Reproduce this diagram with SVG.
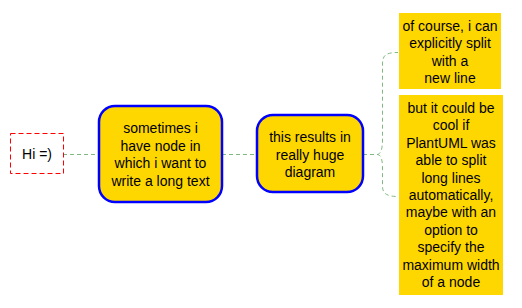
<svg xmlns="http://www.w3.org/2000/svg" width="522" height="308" viewBox="0 0 522 308">
<style>
text{font-family:"Liberation Sans",Arial,sans-serif;font-size:14px;fill:#000;text-anchor:middle}
.box{fill:#FFD700;stroke:#0000FF;stroke-width:2.5}
.plain{fill:#FFD700;stroke:none}
.conn{fill:none;stroke:#7FB97F;stroke-width:1;stroke-dasharray:4,3}
</style>
<rect width="522" height="308" fill="#fff"/>
<g id="connectors">
<path class="conn" d="M63,154.5 H99"/>
<path class="conn" d="M222,154.5 H257"/>
<path class="conn" d="M363,154.5 H377 C381,154.5 382.5,148 382.5,140 V64 C382.5,56 385,52.5 398,52.5"/>
<path class="conn" d="M377,154.5 C381,154.5 382.5,160 382.5,168 V186 C382.5,193 386,196.5 398,196.5"/>
</g>
<g id="hi">
<rect x="10.5" y="133.5" width="53" height="40" fill="#fff" stroke="#FF0000" stroke-width="1" stroke-dasharray="5,3"/>
<text x="37" y="159">Hi =)</text>
</g>
<g id="node-sometimes">
<rect class="box" x="99" y="106" width="123" height="96" rx="16"/>
<text x="160.5" y="133">sometimes i</text>
<text x="160.5" y="150.5">have node in</text>
<text x="160.5" y="168">which i want to</text>
<text x="160.5" y="185.5">write a long text</text>
</g>
<g id="node-results">
<rect class="box" x="257" y="115" width="106" height="77" rx="16"/>
<text x="310" y="142">this results in</text>
<text x="310" y="159.5">really huge</text>
<text x="310" y="177">diagram</text>
</g>
<g id="node-course">
<rect class="plain" x="399" y="13" width="102" height="76"/>
<text x="450" y="31">of course, i can</text>
<text x="450" y="48">explicitly split</text>
<text x="450" y="65.5">with a</text>
<text x="450" y="83">new line</text>
</g>
<g id="node-cool">
<rect class="plain" x="399" y="95" width="104" height="200"/>
<text x="451" y="113">but it could be</text>
<text x="451" y="130.4">cool if</text>
<text x="451" y="147.8">PlantUML was</text>
<text x="451" y="165.2">able to split</text>
<text x="451" y="182.6">long lines</text>
<text x="451" y="200">automatically,</text>
<text x="451" y="217.4">maybe with an</text>
<text x="451" y="234.8">option to</text>
<text x="451" y="252.2">specify the</text>
<text x="451" y="269.6">maximum width</text>
<text x="451" y="287">of a node</text>
</g>
</svg>
